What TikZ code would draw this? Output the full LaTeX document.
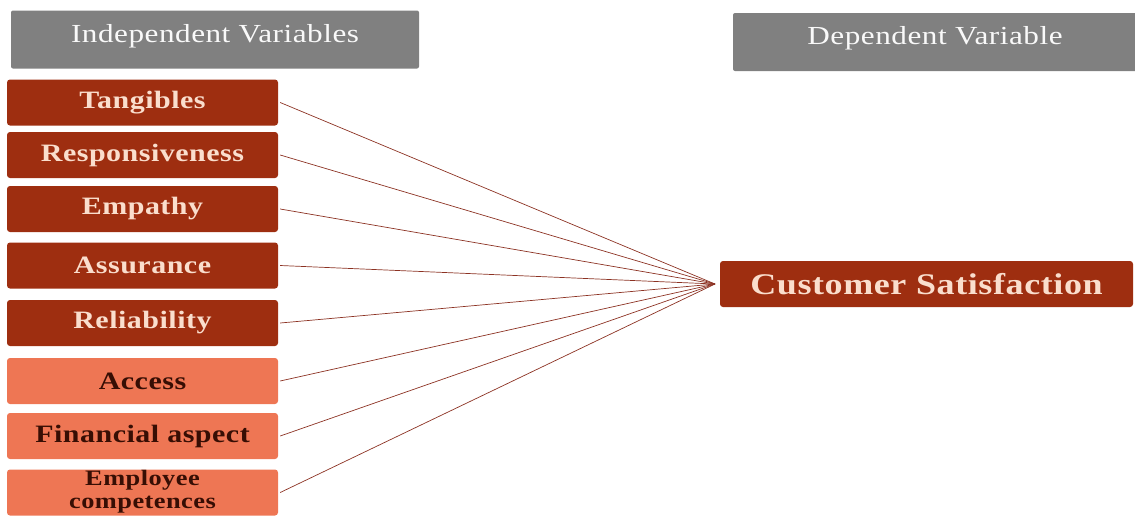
\documentclass[tikz,border=0pt]{standalone}
\usepackage{fontspec}
\setmainfont{Liberation Serif}[FakeStretch=1.2, LetterSpace=2]
\definecolor{headgray}{RGB}{128,128,128}
\definecolor{rust}{RGB}{158,46,16}
\definecolor{coral}{RGB}{238,118,84}
\definecolor{peach}{RGB}{250,222,205}
\definecolor{darkbrown}{RGB}{55,14,4}
\definecolor{linkred}{RGB}{140,50,35}
\begin{document}
\begin{tikzpicture}[x=1pt,y=-1pt,
    header/.style={fill=headgray, rounded corners=2pt, text=white!95!gray,
        minimum height=58pt, inner sep=0pt, text height=18pt, text depth=13pt,
        font=\fontsize{26}{26}\selectfont},
    darkvar/.style={fill=rust, rounded corners=3pt, text=peach,
        minimum width=271pt, minimum height=46pt, inner sep=0pt,
        font=\fontsize{25}{25}\selectfont\bfseries},
    lightvar/.style={darkvar, fill=coral, text=darkbrown},
    link/.style={linkred, line width=0.7pt}]
    \useasboundingbox (0,0) rectangle (1135,515);

    % headers
    \node[header, minimum width=408pt] (indep) at (215,39.5) {Independent Variables};
    \node[header, minimum width=404pt] (dep) at (935,42) {Dependent Variable};

    % independent variables
    \node[darkvar] (tang) at (142.5,102.5) {Tangibles};
    \node[darkvar] (resp) at (142.5,155) {Responsiveness};
    \node[darkvar] (emp) at (142.5,209) {Empathy};
    \node[darkvar] (assu) at (142.5,265.5) {Assurance};
    \node[darkvar] (reli) at (142.5,323) {Reliability};
    \node[lightvar] (acc) at (142.5,381) {Access};
    \node[lightvar] (fin) at (142.5,436) {Financial aspect};
    \node[lightvar, font=\fontsize{22}{22.5}\selectfont\bfseries] (empl) at (142.5,492.5)
        {\begin{tabular}{@{}c@{}}Employee\\competences\end{tabular}};

    % dependent variable
    \node[darkvar, minimum width=413pt, font=\fontsize{30}{30}\selectfont\bfseries] (cs) at (926.5,284)
        {Customer Satisfaction};
    \coordinate (hub) at (715,284);

    % links
    \foreach \v in {tang,resp,emp,assu,reli,acc,fin,empl}
        \draw[link] ([xshift=2pt]\v.east) -- (hub);
\end{tikzpicture}
\end{document}
